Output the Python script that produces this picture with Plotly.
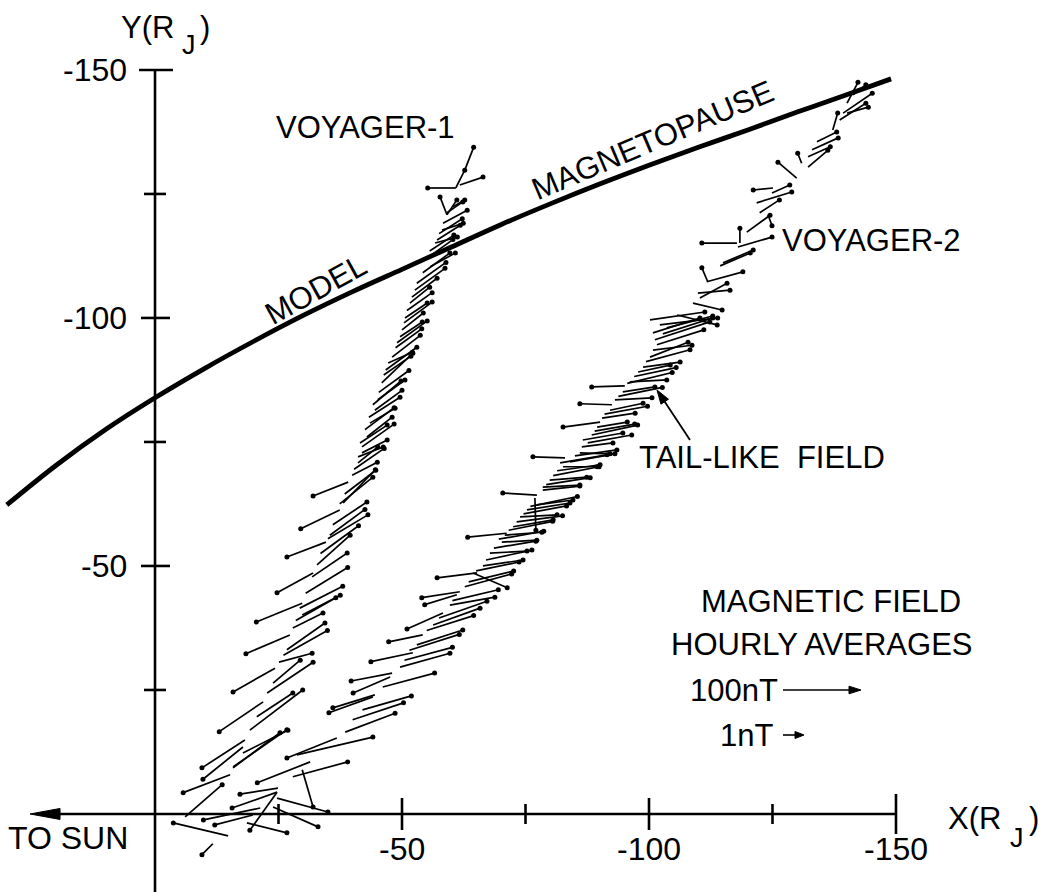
import plotly.graph_objects as go

# ---------------- data (RJ) ----------------
# Model magnetopause
MP_X = [30, 20, 10, 0, -10, -20, -30, -40, -50, -60, -70, -80, -90, -100, -110, -120, -130, -140, -149]
MP_Y = [-62.3, -70.3, -77.5, -83.9, -89.8, -95.3, -100.5, -105.3, -109.8, -114.3, -118.8, -123.0,
        -127.0, -130.8, -134.4, -137.9, -141.5, -145.0, -148.2]

# Voyager-1: position along trajectory and hourly-average field vector (plotted length, RJ)
V1_X = [-6.1, -15.2, -14.8, -11.7, -21.3, -19.8, -24.9, -24.7, -18.2, -17.8, -15.8, -15.8, -17.8, -21.9,
        -19.2, -20.6, -23.9, -24.3, -22.7, -25.1, -27.3, -26.7, -27.9, -29.8, -29.8, -29.3, -32.0, -31.8,
        -32.8, -34.6, -35.4, -36.0, -37.4, -37.4, -38.1, -39.1, -39.9, -41.1, -41.1, -41.5, -41.9, -42.9,
        -43.5, -44.5, -45.1, -45.9, -47.2, -48.0, -49.6, -50.0, -50.6, -51.6, -52.0, -52.6, -54.2, -55.7,
        -56.7, -57.1, -58.1, -58.3, -59.1, -60.3, -59.1, -59.1, -60.9, -60.9, -62.7, -61.7,
        -38.4, -40.3, -41.9, -42.5, -43.3, -44.1, -45.3, -46.3, -46.7, -48.7, -49.0, -50.4, -51.0,
        -53.0, -55.0, -55.6, -57.5, -26.0, -28.5, -30.5, -33.5, -35.0]
V1_Y = [0.6, -7.9, 4.4, 6.0, -1.2, 0.2, -5.2, -4.4, -14.9, -13.5, -9.5, -9.3, -12.3, -22.6,
        -16.9, -19.6, -26.4, -29.4, -24.4, -30.6, -36.1, -33.1, -37.5, -42.5, -40.1, -41.5, -48.6, -47.8,
        -50.2, -54.8, -56.2, -58.3, -61.3, -62.5, -62.7, -66.9, -68.3, -72.0, -70.8, -74.8, -72.8, -76.0,
        -78.8, -81.4, -83.5, -86.9, -90.9, -92.1, -96.2, -97.6, -100.0, -103.0, -104.2, -105.6, -109.1, -110.3,
        -115.1, -115.7, -117.7, -119.1, -121.2, -122.4, -120.8, -120.8, -126.2, -126.2, -129.8, -126.8,
        -64.5, -69.5, -74.0, -77.5, -80.0, -82.5, -85.0, -88.5, -89.5, -94.0, -95.0, -99.0, -101.5,
        -107.0, -112.0, -113.5, -117.0, -32.0, -39.0, -44.5, -52.5, -55.5]
V1_BX = [-7.5, 9.5, 11.1, 2.2, 11.5, 7.7, 7.7, 9.1, 8.7, 8.1, -10.9, -9.5, -9.1, 8.9,
         -10.7, -7.3, -5.5, 8.5, -9.3, -6.7, 8.9, -7.7, -6.1, 9.3, -7.7, -8.7, 7.3, -7.1,
         -6.7, 7.9, -7.1, -6.9, 7.9, -6.7, -6.5, 7.1, -5.1, -5.1, -4.0, -5.5, -5.1, -5.1,
         -5.1, -5.5, -5.5, -6.3, -4.9, -5.7, -4.5, -4.3, -4.5, -4.0, -5.1, -6.1, -5.5, -5.1,
         -4.5, -4.7, -4.3, -4.9, -3.2, -2.4, 1.4, -2.0, 5.7, -1.8, -1.8, -4.7,
         -6.3, -6.1, -6.5, -5.9, -6.3, -5.7, -6.1, -5.5, -6.3, -5.3, -6.1, -5.7, -5.1,
         -5.9, -5.3, -4.9, -4.7, -8.9, -8.1, -8.5, -7.7, -8.1]
V1_BY = [-6.5, 3.6, -2.6, 2.2, 2.4, 2.0, 1.2, 3.2, 5.6, 6.5, -7.5, -7.1, -4.6, 6.0,
         -8.1, -4.8, -4.6, 4.8, -6.2, -1.8, 3.8, -5.4, -3.0, 3.8, -4.0, -4.4, 4.0, -4.8,
         -6.0, 3.0, -5.2, -4.6, 3.8, -5.4, -6.7, 2.8, -2.6, -2.0, -3.2, -3.6, -2.6, -4.0,
         -3.0, -4.0, -4.0, -6.0, -2.2, -4.4, -3.0, -3.4, -3.0, -3.2, -3.8, -4.4, -4.0, -2.8,
         -1.2, -3.0, -1.4, -2.6, -2.2, -1.4, -3.6, -3.0, 0.0, -3.6, -4.6, -1.6,
         -4.8, -4.2, -4.6, -4.4, -4.0, -4.8, -4.4, -3.8, -4.6, -3.8, -4.4, -4.2, -3.6,
         -4.2, -3.8, -3.2, -3.0, -5.0, -4.6, -5.2, -5.6, -4.8]

# Voyager-2
V2_X = [-24.7, -23.9, -24.7, -18.6, -29.8, -31.4, -27.9, -28.7, -36.8, -38.5, -44.5, -44.1, -46.1, -47.6,
        -48.0, -49.6, -52.2, -53.0, -54.2, -56.3, -58.3, -59.7, -61.1, -61.7, -62.7, -64.4, -65.2, -66.4,
        -67.8, -70.2, -70.8, -71.2, -72.5, -73.9, -75.3, -77.3, -76.9, -77.3, -78.5, -78.5, -79.9, -82.6,
        -83.0, -82.0, -86.0, -86.4, -86.6, -89.5, -90.1, -90.5, -92.1, -92.5, -93.1, -94.7, -95.1, -96.1,
        -97.8, -98.8, -100.2, -100.8, -100.8, -101.2, -100.2, -102.2, -105.7, -108.9, -109.9, -110.3, -111.7,
        -111.9, -115.0, -114.4, -118.0, -117.8, -118.4, -119.8, -121.8, -122.4, -124.1, -125.1, -124.9,
        -129.9, -130.9, -132.2, -132.2, -134.0, -133.0, -137.2, -139.3, -140.1, -140.1, -141.3, -138.6,
        -63.5, -65.0, -67.0, -68.6, -69.6, -71.6, -73.2, -74.6, -76.0, -79.2, -80.6, -81.4, -84.0,
        -85.0, -87.6, -88.4, -89.0, -91.0, -93.8, -95.6, -97.0, -99.4, -101.6, -102.8, -103.6,
        -40.0, -42.0, -50.5, -51.5, -55.0, -57.5, -60.2]
V2_Y = [-3.2, -1.4, -4.4, 1.8, -8.9, -10.5, -7.5, -11.9, -15.3, -16.5, -24.0, -23.6, -25.6, -27.6,
        -28.4, -29.6, -32.5, -34.1, -36.1, -38.1, -40.5, -42.1, -44.2, -44.8, -45.8, -48.6, -48.6, -50.0,
        -52.6, -54.8, -56.2, -56.6, -57.9, -59.9, -61.3, -62.3, -63.7, -64.3, -65.3, -65.9, -67.3, -70.0,
        -71.8, -70.8, -72.8, -74.0, -75.4, -78.0, -79.0, -79.8, -81.4, -82.5, -83.5, -85.1, -86.3, -87.1,
        -89.1, -90.1, -92.1, -93.5, -97.0, -95.6, -99.6, -98.6, -100.6, -103.0, -105.0, -104.0, -107.3,
        -107.3, -111.1, -110.5, -114.3, -115.1, -115.1, -117.3, -123.2, -121.2, -120.8, -126.2, -125.2,
        -128.2, -131.2, -130.4, -132.5, -135.5, -133.9, -137.9, -141.3, -141.3, -143.3, -145.0, -139.9,
        -46.8, -49.0, -51.2, -53.6, -55.4, -57.2, -58.9, -60.5, -62.0, -66.4, -68.2, -69.2, -71.0,
        -72.2, -74.8, -76.4, -77.2, -80.6, -84.2, -86.8, -88.2, -91.2, -94.6, -96.8, -98.0,
        -19.0, -21.0, -31.0, -33.0, -37.0, -39.5, -43.0]
V2_BX = [-10.3, -9.1, 5.5, -8.1, -2.2, 10.7, -11.1, -15.4, 10.1, -10.1, 8.5, 8.9, -10.5, 7.5,
         8.3, -10.1, 8.5, -9.3, 6.9, -9.5, 7.3, -9.1, 6.5, 7.7, -9.5, -6.9, 8.1, -8.1,
         -7.5, -7.1, -7.5, 7.9, -8.1, -7.5, -8.7, -7.3, -0.2, 6.9, -7.5, -7.5, -7.5, -6.9,
         6.5, -9.5, -6.1, -6.3, -8.1, -6.1, 7.5, -6.7, -6.7, 6.5, -7.5, -6.5, 6.7, -7.5,
         -6.5, -7.5, -7.7, -7.9, -9.5, -11.1, -11.1, -11.7, -8.1, -5.9, -6.5, -5.5, -7.3,
         1.2, -6.1, -6.1, -6.9, 7.1, 0.0, -4.7, -7.1, -4.0, -0.8, 4.0, -3.6,
         3.8, 0.8, -4.0, -4.5, -4.0, -5.3, -1.0, -5.9, -4.3, -2.2, -2.6, -5.3,
         -9.1, -8.7, -9.3, -8.5, -9.1, -8.9, -9.3, -8.7, -9.5, -8.9, -9.3, -8.7, -9.1,
         -8.5, -8.9, -9.3, -8.1, -8.7, -8.9, -9.1, -8.5, -8.9, -9.5, -10.1, -9.3,
         -10.3, -9.9, -9.7, -10.1, -9.5, -9.7, -9.3]
V2_BY = [2.8, 4.0, 7.7, 2.0, 7.5, 4.2, -3.0, -3.6, 4.0, -3.8, 2.6, 3.2, -2.8, 3.2,
         1.6, -2.8, 1.8, -3.0, 1.4, -3.4, 3.2, -1.6, 2.0, 1.2, -2.6, 3.0, 1.0, -1.2,
         -0.4, -0.4, -0.6, 0.8, -1.4, -0.4, -1.4, -1.0, 6.5, -0.4, -0.8, -0.4, -0.6, 0.0,
         -0.2, -1.6, 0.2, -0.8, -1.4, -1.0, 1.0, -1.0, -1.4, -0.2, -0.4, -1.0, 0.2, -0.4,
         -1.4, -1.0, -3.0, -1.0, -3.0, -3.6, -1.6, -1.4, 2.0, 1.4, -0.6, -3.0, -2.0,
         -2.8, -2.6, -2.6, -2.0, 0.0, -3.0, -3.4, -2.2, -2.6, 2.2, 0.4, -1.6,
         -3.2, -2.0, -3.4, -2.0, -2.0, -2.4, -3.4, -4.0, -1.2, -4.2, -2.0, -3.4,
         -2.2, -1.8, -2.0, -1.4, -1.6, -1.8, -1.2, -1.6, -2.0, -1.4, -1.8, -1.2, -1.6,
         -1.2, -1.6, -2.0, -1.4, -1.6, -1.8, -2.2, -1.8, -2.4, -3.0, -3.2, -2.4,
         -3.4, -2.8, -2.6, -3.2, -3.0, -3.4, -2.2]

# Axes
X_TICKS = [-25, -50, -75, -100, -125, -150]
X_LABELS = ["", "-50", "", "-100", "", "-150"]
Y_TICKS = [-25, -50, -75, -100, -125, -150]
Y_LABELS = ["", "-50", "", "-100", "", "-150"]

# ---------------- figure ----------------
W, H = 1051, 892
FONT = "Liberation Sans, Arial, Helvetica, sans-serif"
FS = 31
BLACK = "black"


def P(px, py):
    return px / W, 1 - py / H


def vec_traces(xs, ys, bxs, bys):
    lx, ly, hx, hy = [], [], [], []
    for x, y, bx, by in zip(xs, ys, bxs, bys):
        lx += [x, x + bx, None]
        ly += [y, y + by, None]
        hx.append(x + bx)
        hy.append(y + by)
    return [
        go.Scatter(x=lx, y=ly, mode="lines", line=dict(color=BLACK, width=1.7),
                   hoverinfo="skip", showlegend=False),
        go.Scatter(x=hx, y=hy, mode="markers", marker=dict(color=BLACK, size=5),
                   hoverinfo="skip", showlegend=False),
    ]


fig = go.Figure()
fig.add_trace(go.Scatter(x=MP_X, y=MP_Y, mode="lines", line=dict(color=BLACK, width=4.8, shape="spline"),
                         hoverinfo="skip", showlegend=False))
for t in vec_traces(V1_X, V1_Y, V1_BX, V1_BY):
    fig.add_trace(t)
for t in vec_traces(V2_X, V2_Y, V2_BX, V2_BY):
    fig.add_trace(t)

shapes = []
AX = dict(color=BLACK, width=2.6)
# Y axis line (extends below origin)
shapes.append(dict(type="line", xref="x", yref="y", x0=0, x1=0, y0=16, y1=-150, line=AX))
# X axis line, continued sunward as the "TO SUN" arrow
shapes.append(dict(type="line", xref="x", yref="y", x0=20, x1=-150, y0=0, y1=0, line=AX))
shapes.append(dict(type="path", xref="x", yref="y", xsizemode="pixel", ysizemode="pixel",
                   xanchor=25.3, yanchor=0, path="M 0 0 L 30 5.5 L 30 -5.5 Z",
                   fillcolor=BLACK, line=dict(color=BLACK, width=1)))
for t, lab in zip(Y_TICKS, Y_LABELS):
    if t == -150:
        a, b = -16, 18
    elif lab:
        a, b = -14, 15
    else:
        a, b = -11, 11
    shapes.append(dict(type="line", xref="x", yref="y", xsizemode="pixel", xanchor=0,
                       x0=a, x1=b, y0=t, y1=t, line=AX))
for t, lab in zip(X_TICKS, X_LABELS):
    if t == -150:
        a, b = -20, 20
    elif lab:
        a, b = -16, 16
    else:
        a, b = -10, 10
    shapes.append(dict(type="line", xref="x", yref="y", ysizemode="pixel", yanchor=0,
                       y0=a, y1=b, x0=t, x1=t, line=AX))


def arrow(p_tail, p_head, head_len, half_w, width):
    x0, y0 = P(*p_tail)
    x1, y1 = P(*p_head)
    dx, dy = p_head[0] - p_tail[0], p_head[1] - p_tail[1]
    n = (dx * dx + dy * dy) ** 0.5
    ux, uy = dx / n, dy / n
    sx, sy = P(p_head[0] - ux * head_len * 0.6, p_head[1] - uy * head_len * 0.6)
    shapes.append(dict(type="line", xref="paper", yref="paper", x0=x0, y0=y0, x1=sx, y1=sy,
                       line=dict(color=BLACK, width=width)))
    bx, by = -ux * head_len, uy * head_len
    px_, py_ = -uy * half_w, -ux * half_w
    path = "M 0 0 L {:.2f} {:.2f} L {:.2f} {:.2f} Z".format(bx + px_, by + py_, bx - px_, by - py_)
    shapes.append(dict(type="path", xref="paper", yref="paper", xsizemode="pixel", ysizemode="pixel",
                       xanchor=x1, yanchor=y1, path=path, fillcolor=BLACK, line=dict(color=BLACK, width=1)))


arrow((690, 440), (657, 390), 14, 4.5, 1.8)
arrow((783, 690), (861, 690), 12, 3.8, 1.6)
arrow((783, 735), (804, 735), 9, 3.5, 1.6)

ann = []
for t, lab in zip(X_TICKS, X_LABELS):
    if lab:
        ann.append(dict(x=t, y=0, xref="x", yref="y", text=lab, showarrow=False, yshift=-35,
                        font=dict(size=FS + 1, family=FONT, color=BLACK)))
for t, lab in zip(Y_TICKS, Y_LABELS):
    if lab:
        ann.append(dict(x=0, y=t, xref="x", yref="y", text=lab, showarrow=False, xanchor="right",
                        xshift=-26, font=dict(size=FS + 1, family=FONT, color=BLACK)))


def text(s, px, py, anchor="center", angle=0, size=FS):
    x, y = P(px, py)
    ann.append(dict(x=x, y=y, xref="paper", yref="paper", text=s, showarrow=False, xanchor=anchor,
                    yanchor="middle", textangle=angle, font=dict(size=size, family=FONT, color=BLACK)))


# axis titles Y(R_J), X(R_J) with a large lowered subscript
text("Y(R", 119, 28, anchor="left")
text("J", 189, 45, size=27)
text(")", 205, 28)
text("X(R", 946, 818, anchor="left")
text("J", 1017, 838, size=27)
text(")", 1034, 818)

text("TO SUN", 6, 838, anchor="left", size=FS + 1)
text("VOYAGER-1", 365, 127)
text("VOYAGER-2", 780, 240, anchor="left")
text("MAGNETOPAUSE", 652, 140, angle=-23)
text("MODEL", 316, 290, angle=-29)
text("TAIL-LIKE  FIELD", 762, 457)
text("MAGNETIC FIELD", 831, 601)
text("HOURLY AVERAGES", 822, 644)
text("100nT", 688, 690, anchor="left")
text("1nT", 718, 735, anchor="left")

fig.update_layout(
    width=W, height=H, margin=dict(l=0, r=0, t=0, b=0),
    paper_bgcolor="white", plot_bgcolor="white",
    xaxis=dict(visible=False, range=[31.38, -181.38]),
    yaxis=dict(visible=False, range=[15.73, -164.1]),
    shapes=shapes, annotations=ann, showlegend=False,
    font=dict(family=FONT, color=BLACK),
)

fig.write_html("out.html", config={"displayModeBar": False},
               post_script="document.body.style.margin='0px';document.body.style.overflow='hidden';")
